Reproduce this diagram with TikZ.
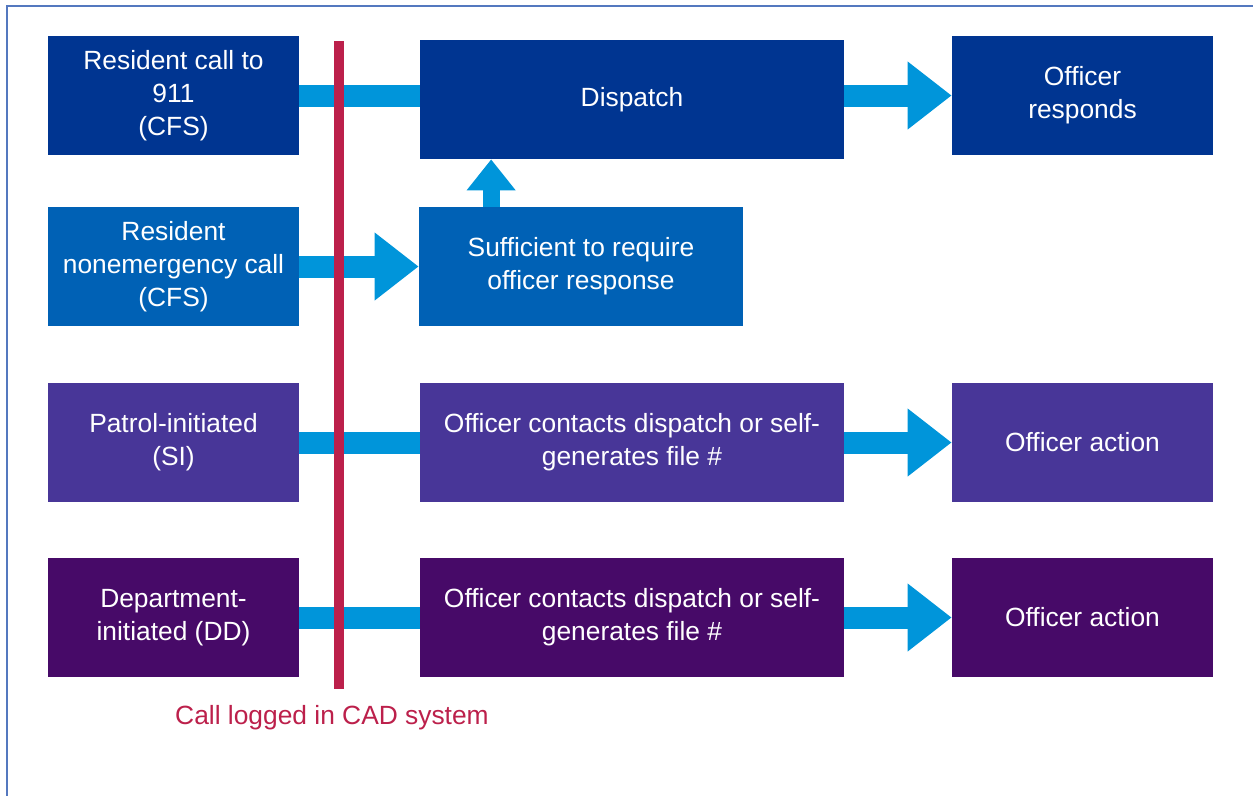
\documentclass[tikz,border=0pt]{standalone}
\usepackage{fontspec}
\setmainfont{Liberation Sans}
\usetikzlibrary{arrows.meta}

\definecolor{navyblue}{HTML}{003591}
\definecolor{midblue}{HTML}{0061B5}
\definecolor{violet}{HTML}{483698}
\definecolor{plum}{HTML}{470A68}
\definecolor{skyblue}{HTML}{0095DA}
\definecolor{cadred}{HTML}{BC204B}
\definecolor{frameblue}{HTML}{5478BF}

\begin{document}
\begin{tikzpicture}[y=-1cm,
  box/.style={fill=#1, text=white, inner sep=0pt, minimum height=2.38cm,
    align=center, font=\fontsize{15}{18.8}\selectfont},
  bar/.style={draw=skyblue, line width=0.44cm},
  headbar/.style={bar, -{Triangle[length=0.88cm,width=1.3cm]}},
  upbar/.style={draw=skyblue, line width=0.34cm, -{Triangle[length=0.62cm,width=0.94cm]}}]
\useasboundingbox (0,0) rectangle (25.06,15.92);
\draw[frameblue, line width=0.04cm]
(25.06,0.12) -- (0.14,0.12) -- (0.14,15.92);

\node[box=navyblue, minimum width=5.02cm] (call) at (3.47,1.91)
  {Resident call to\\911\\(CFS)};
\node[box=navyblue, minimum width=8.48cm] (dispatch) at (12.64,1.99) {Dispatch};
\node[box=navyblue, minimum width=5.22cm] (responds) at (21.65,1.91)
  {Officer\\responds};

\node[box=midblue, minimum width=5.02cm] (noncall) at (3.47,5.33)
  {Resident\\nonemergency call\\(CFS)};
\node[box=midblue, minimum width=6.48cm] (enough) at (11.62,5.33)
  {Sufficient to require\\officer response};

\node[box=violet, minimum width=5.02cm] (patrol) at (3.47,8.85)
  {Patrol-initiated\\(SI)};
\node[box=violet, minimum width=8.48cm] (contactsA) at (12.64,8.85)
  {Officer contacts dispatch or self-\\generates file \#};
\node[box=violet, minimum width=5.22cm] (actionA) at (21.65,8.85) {Officer action};

\node[box=plum, minimum width=5.02cm] (dept) at (3.47,12.35)
  {Department-\\initiated (DD)};
\node[box=plum, minimum width=8.48cm] (contactsB) at (12.64,12.35)
  {Officer contacts dispatch or self-\\generates file \#};
\node[box=plum, minimum width=5.22cm] (actionB) at (21.65,12.35) {Officer action};

\draw[bar] (call.east) -- (call.east -| dispatch.west);
\draw[headbar] (responds.west -| dispatch.east) -- (responds.west);
\draw[headbar] (noncall.east) -- (enough.west);
\draw[bar] (patrol.east) -- (contactsA.west);
\draw[headbar] (contactsA.east) -- (actionA.west);
\draw[bar] (dept.east) -- (contactsB.west);
\draw[headbar] (contactsB.east) -- (actionB.west);

\coordinate (up) at ([xshift=1.45cm]enough.north west);
\draw[upbar] (up) -- (up |- dispatch.south);

\draw[cadred, line width=0.2cm]
(6.78,0.82) coordinate (logtop) -- (6.78,13.78) coordinate (logbot);
\node[cadred, font=\fontsize{15}{18}\selectfont] (logged) at (6.64,14.36)
  {Call logged in CAD system};
\end{tikzpicture}
\end{document}
